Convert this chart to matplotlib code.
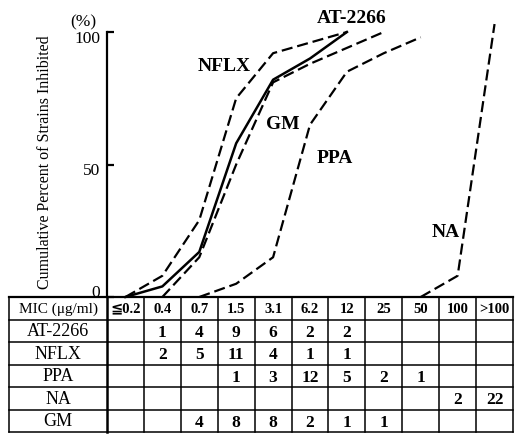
import matplotlib
matplotlib.use("Agg")
from matplotlib import pyplot as plt
from matplotlib import transforms

# MIC columns and table rows
mic_labels = ["≦0.2", "0.4", "0.7", "1.5", "3.1", "6.2", "12", "25", "50", "100", ">100"]
drug_names = ["AT-2266", "NFLX", "PPA", "NA", "GM"]

at2266_counts = [None, 1, 4, 9, 6, 2, 2, None, None, None, None]
nflx_counts = [None, 2, 5, 11, 4, 1, 1, None, None, None, None]
ppa_counts = [None, None, None, 1, 3, 12, 5, 2, 1, None, None]
na_counts = [None, None, None, None, None, None, None, None, None, 2, 22]
gm_counts = [None, None, 4, 8, 8, 2, 1, 1, None, None, None]
table_counts = [at2266_counts, nflx_counts, ppa_counts, na_counts, gm_counts]

# cumulative % curves (column index, percent)
at2266_x = [0, 1, 2, 3, 4, 5, 6]
at2266_y = [0, 4, 17, 58, 82, 90, 100]
nflx_x = [0, 1, 2, 3, 4, 5, 6]
nflx_y = [0, 8, 29, 75, 92, 96, 100]
gm_x = [1, 2, 3, 4, 5, 6, 7]
gm_y = [0, 15, 50, 81, 88, 94, 100]
ppa_x = [2, 3, 4, 5, 6, 7, 8]
ppa_y = [0, 5, 15, 65, 85, 92, 98]
na_x = [8, 9, 10]
na_y = [0, 8, 103]

plt.rcParams['font.family'] = ['Liberation Serif', 'DejaVu Serif', 'DejaVu Sans']

W, H = 524, 435
fig = plt.figure(figsize=(W / 100, H / 100), dpi=100)

col_w = 36.9
spine_px = 107
top0_px = 298
py_per_pct = 2.65

# plot area
ax = fig.add_axes([spine_px / W, (H - top0_px) / H, (513 - spine_px) / W, top0_px / H])
ax.set_xlim(-0.5, 10.5)
ax.set_ylim(0, top0_px / py_per_pct)
for s in ["top", "right", "bottom"]:
    ax.spines[s].set_visible(False)
ax.spines["left"].set_linewidth(1.6)
ax.spines["left"].set_bounds(0, 100)
ax.set_xticks([])
ax.set_yticks([0, 50, 100])
ax.set_yticklabels(["0", "50", "100"], fontsize=12.5)
ax.tick_params(axis="y", direction="in", length=5, width=1.6, pad=5)
tl = ax.get_yticklabels()
tl[0].set_transform(tl[0].get_transform() + transforms.ScaledTranslation(0, 7 / 100, fig.dpi_scale_trans))
tl[1].set_transform(tl[1].get_transform() + transforms.ScaledTranslation(0, -4 / 100, fig.dpi_scale_trans))
tl[2].set_transform(tl[2].get_transform() + transforms.ScaledTranslation(0, -4 / 100, fig.dpi_scale_trans))

solid = dict(color="black", lw=1.8, clip_on=False)
dashed = dict(color="black", lw=1.6, linestyle=(0, (5, 2.2)), clip_on=False)
ax.plot(at2266_x, at2266_y, **solid)
ax.plot(nflx_x, nflx_y, **dashed)
ax.plot(gm_x, gm_y, **dashed)
ax.plot(ppa_x, ppa_y, **dashed)
ax.plot(na_x, na_y, **dashed)

lab = dict(fontsize=14, ha="center", va="center", fontweight="bold")
ax.text(6.14, 105.3, "AT-2266", **lab)
ax.text(2.67, 87.2, "NFLX", **lab)
ax.text(4.27, 65.3, "GM", **lab)
ax.text(5.68, 52.8, "PPA", **lab)
ax.text(8.69, 24.9, "NA", **lab)
ax.text(-1.15, 104.0, "(%)", fontsize=12.5, ha="center", va="center", clip_on=False)

fig.text(45 / W, 1 - 162 / H, "Cumulative Percent of Strains Inhibited",
         rotation=90, fontsize=11.5, ha="center", va="center")

# table
left_x = -0.5 - (spine_px - 9) / col_w
tb = fig.add_axes([9 / W, 2 / H, 504 / W, (433 - top0_px) / H])
tb.set_xlim(left_x, 10.5)
tb.set_ylim(6, 0)
tb.axis("off")
for r in range(7):
    tb.plot([left_x, 10.5], [r, r], color="black", lw=1.6 if r == 0 else 1.1, clip_on=False)
for c in range(-1, 11):
    tb.plot([c + 0.5, c + 0.5], [0, 6], color="black", lw=1.8 if c == -1 else 1.1, clip_on=False)
tb.plot([left_x, left_x], [0, 6], color="black", lw=1.1, clip_on=False)

name_x = (left_x - 0.5) / 2
tb.text(name_x, 0.5, "MIC (μg/ml)", fontsize=11, ha="center", va="center")
for i, m in enumerate(mic_labels):
    tb.text(i, 0.5, m, fontsize=10.5, ha="center", va="center", fontweight="bold")
for r, (name, row) in enumerate(zip(drug_names, table_counts), start=1):
    tb.text(name_x, r + 0.5, name, fontsize=13, ha="center", va="center")
    for i, v in enumerate(row):
        if v is not None:
            tb.text(i, r + 0.55, str(v), fontsize=12.5, ha="center", va="center", fontweight="bold")

fig.savefig("out.png", dpi=100)
